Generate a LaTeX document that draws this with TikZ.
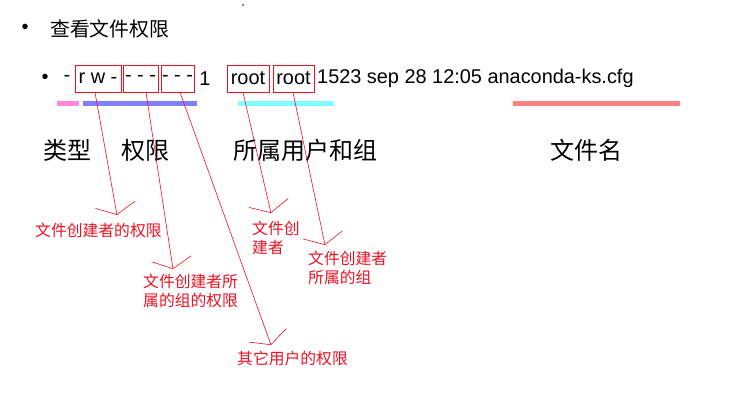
\documentclass[tikz,border=0pt]{standalone}
\usepackage{fontspec}
\setmainfont{Liberation Sans}
\newfontfamily\cjk{Noto Sans CJK SC}
\usetikzlibrary{arrows.meta}
\definecolor{barpink}{HTML}{FF88DD}
\definecolor{barblue}{HTML}{8080FF}
\definecolor{barcyan}{HTML}{80FFFF}
\definecolor{barred}{HTML}{FF8080}
\definecolor{notered}{HTML}{EE1122}
\tikzset{
    lsline/.style={font=\fontsize{19.9}{22}\selectfont, inner sep=0pt},
    permbox/.style={lsline, draw=notered, line width=0.8pt, minimum height=27pt},
    head/.style={font=\fontsize{24}{28}\selectfont\cjk, inner sep=0pt},
    note/.style={font=\fontsize{15.8}{19}\selectfont\cjk, text=notered, inner sep=0pt, align=left, anchor=west},
    pointer/.style={draw=notered, line width=0.6pt, -{Straight Barb[length=10pt,width=40pt]}}
}
\begin{document}
\begin{tikzpicture}[x=1pt, y=-1pt]
    \useasboundingbox (0,0) rectangle (733,405);
    \fill (243,5) circle (0.8);

    % title line
    \node[lsline] (dot1) at (25,29) {\textbullet};
    \node[lsline, font=\fontsize{19.8}{22}\selectfont\cjk, anchor=west] (title) at (50,29) {查看文件权限};

    % ls -l line
    \node[lsline] (dot2) at (45,79) {\textbullet};
    \node[lsline] (type) at (67,78.5) {-};
    \node[permbox, minimum width=46pt] (own) at (98,78.5) {r w -};
    \node[permbox, minimum width=35pt] (grp) at (140.5,78.5) {- - -};
    \node[permbox, minimum width=33pt] (oth) at (177.5,78.5) {- - -};
    \node[lsline] (links) at (205,78.5) {1};
    \node[permbox, minimum width=42pt] (user) at (248,78.5) {root};
    \node[permbox, minimum width=41pt] (group) at (293.5,78.5) {root};
    \node[lsline, anchor=west] (rest) at (317,78.5) {1523 sep 28 12:05 anaconda-ks.cfg};

    % colour bars
    \draw[line width=5pt, barpink] (57,103) -- (79,103);
    \draw[line width=5pt, barblue] (83,103) -- (197,103);
    \draw[line width=5pt, barcyan] (238,103) -- (334,103);
    \draw[line width=5pt, barred] (513,103) -- (680,103);

    % headings
    \node[head] (htype) at (67,150) {类型};
    \node[head] (hperm) at (145,150) {权限};
    \node[head] (howner) at (305,150) {所属用户和组};
    \node[head] (hname) at (586,150) {文件名};

    % notes
    \node[note] (nown) at (35,230) {文件创建者的权限};
    \node[note] (ngrp) at (143,291) {文件创建者所\\属的组的权限};
    \node[note] (noth) at (237,358) {其它用户的权限};
    \node[note] (nuser) at (252,237.5) {文件创\\建者};
    \node[note] (ngroup) at (308,267.5) {文件创建者\\所属的组};

    % pointers
    \coordinate (town) at (117,215);
    \coordinate (tgrp) at (173,269);
    \coordinate (toth) at (271,345);
    \coordinate (tuser) at (271,213);
    \coordinate (tgroup) at (325,245);
    \draw[pointer] (own.south -| 95,0) -- (town);
    \draw[pointer] (grp.south -| 146,0) -- (tgrp);
    \draw[pointer] (oth.south -| 180,0) -- (toth);
    \draw[pointer] (user.south -| 243,0) -- (tuser);
    \draw[pointer] (group.south -| 293,0) -- (tgroup);
\end{tikzpicture}
\end{document}
